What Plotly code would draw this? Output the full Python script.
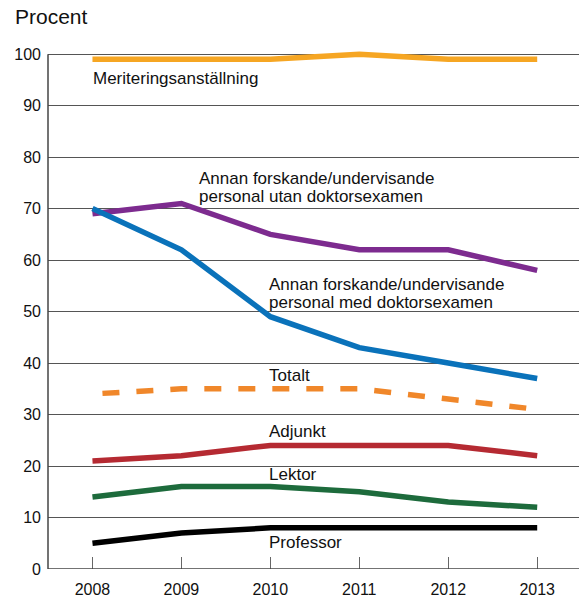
import plotly.graph_objects as go

years = [2008, 2009, 2010, 2011, 2012, 2013]
meritering = [99, 99, 99, 100, 99, 99]
utan_dr = [69, 71, 65, 62, 62, 58]
med_dr = [70, 62, 49, 43, 40, 37]
totalt = [34, 35, 35, 35, 33, 31]
adjunkt = [21, 22, 24, 24, 24, 22]
lektor = [14, 16, 16, 15, 13, 12]
professor = [5, 7, 8, 8, 8, 8]
y_ticks = [0, 10, 20, 30, 40, 50, 60, 70, 80, 90, 100]

series = [
    ("Meriteringsanställning", meritering, "#F6A623", "solid"),
    ("Annan forskande/undervisande personal utan doktorsexamen", utan_dr, "#7D2B8F", "solid"),
    ("Annan forskande/undervisande personal med doktorsexamen", med_dr, "#0A72BA", "solid"),
    ("Totalt", totalt, "#F0872A", "0px,10px,17px,7px"),
    ("Adjunkt", adjunkt, "#B52A32", "solid"),
    ("Lektor", lektor, "#1D6B3C", "solid"),
    ("Professor", professor, "#000000", "solid"),
]

fig = go.Figure()
for name, vals, color, dash in series:
    fig.add_trace(go.Scatter(
        x=years, y=vals, mode="lines", name=name,
        line=dict(color=color, width=5.5, dash=dash),
        showlegend=False, hoverinfo="skip",
    ))

font = "Liberation Sans, Arial, sans-serif"
labels = [
    ("Meriteringsanställning", 2008.0, 95.3),
    ("Annan forskande/undervisande", 2009.19, 75.9),
    ("personal utan doktorsexamen", 2009.19, 72.3),
    ("Annan forskande/undervisande", 2009.97, 55.3),
    ("personal med doktorsexamen", 2009.97, 51.7),
    ("Totalt", 2009.97, 37.5),
    ("Adjunkt", 2009.97, 26.8),
    ("Lektor", 2009.97, 18.3),
    ("Professor", 2009.97, 5.2),
]
for text, x, y in labels:
    fig.add_annotation(x=x, y=y, xref="x", yref="y", text=text, showarrow=False,
                       xanchor="left", yanchor="middle", borderpad=0,
                       font=dict(family=font, size=17, color="#111"))

W, H = 579, 601
ML, MR, MT, MB = 48, 0, 49, 32
PW, PH = W - ML - MR, H - MT - MB

fig.add_annotation(x=(14 - ML) / PW, y=(H - MB - 16) / PH, xref="paper", yref="paper",
                   text="Procent", showarrow=False, xanchor="left", yanchor="middle",
                   borderpad=0, font=dict(family=font, size=21, color="#111"))

# axis lines
fig.add_shape(type="line", xref="paper", yref="y", x0=0, x1=0, y0=0, y1=100,
              line=dict(color="#444", width=1.5))
fig.add_shape(type="line", xref="paper", yref="y", x0=0, x1=1, y0=0, y1=0,
              line=dict(color="#444", width=1.5))

fig.update_layout(
    width=W, height=H,
    margin=dict(l=ML, r=MR, t=MT, b=MB),
    paper_bgcolor="white", plot_bgcolor="white",
    font=dict(family=font, size=16, color="#111"),
    hovermode=False,
    xaxis=dict(range=[2007.5, 2013.47], tickvals=years, ticktext=[str(y) for y in years],
               ticks="inside", ticklen=12, tickcolor="#666", tickwidth=1,
               showgrid=False, zeroline=False, showline=False,
               ticklabelstandoff=9, tickfont=dict(size=16)),
    yaxis=dict(range=[0, 101], tickvals=y_ticks, showgrid=True, gridcolor="#555",
               gridwidth=1, zeroline=False, showline=False, ticks="",
               ticklabelstandoff=6, tickfont=dict(size=16)),
)

fig.write_html(
    "out.html",
    config={"displayModeBar": False},
    post_script="document.body.style.margin='0';document.documentElement.style.overflow='hidden';",
)
